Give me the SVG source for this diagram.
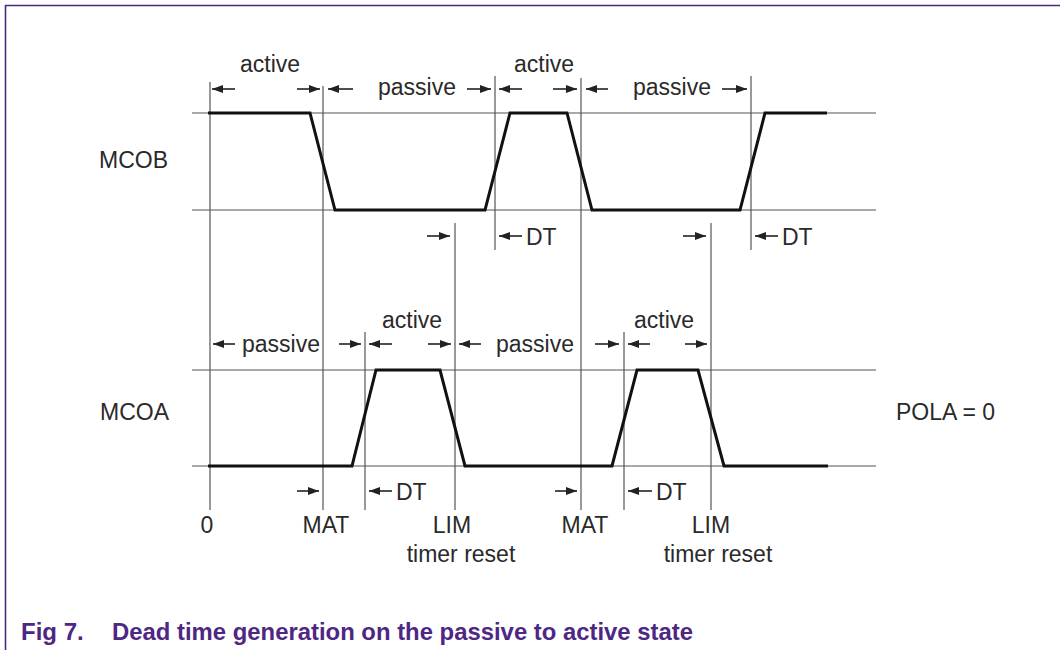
<svg xmlns="http://www.w3.org/2000/svg" width="1060" height="650" viewBox="0 0 1060 650">
  <style>
    .lbl { font-family: "Liberation Sans", Arial, sans-serif; font-size: 23px; fill: #2a2a2a; }
    .mid { text-anchor: middle; }
    .ref { stroke: #555; stroke-width: 1.2; fill: none; }
    .wave { stroke: #111; stroke-width: 3; fill: none; stroke-linejoin: miter; }
    .arr { stroke: #222; stroke-width: 1.6; fill: none; marker-end: url(#ah); }
    .cap { font-family: "Liberation Sans", Arial, sans-serif; font-size: 24px; font-weight: bold; fill: #4e2683; }
  </style>
  <defs>
    <marker id="ah" markerUnits="userSpaceOnUse" markerWidth="12" markerHeight="9" refX="11" refY="4" orient="auto">
      <path d="M0,0 L11,4 L0,8 z" fill="#222"/>
    </marker>
  </defs>
  <rect width="1060" height="650" fill="#ffffff"/>
  <g id="frame" stroke="#4e2683" stroke-width="1.6" fill="none">
    <line x1="5" y1="5.5" x2="1060" y2="5.5"/>
    <line x1="5.5" y1="5" x2="5.5" y2="650"/>
  </g>

  <g id="reference-lines">
    <line class="ref" x1="192" y1="113" x2="876" y2="113"/>
    <line class="ref" x1="192" y1="210" x2="876" y2="210"/>
    <line class="ref" x1="192" y1="370" x2="876" y2="370"/>
    <line class="ref" x1="192" y1="466" x2="876" y2="466"/>
    <line class="ref" x1="210" y1="82" x2="210" y2="510"/>
    <line class="ref" x1="323" y1="86" x2="323" y2="510"/>
    <line class="ref" x1="365" y1="332" x2="365" y2="510"/>
    <line class="ref" x1="455" y1="223" x2="455" y2="510"/>
    <line class="ref" x1="495" y1="76" x2="495" y2="250"/>
    <line class="ref" x1="581" y1="78" x2="581" y2="510"/>
    <line class="ref" x1="624" y1="332" x2="624" y2="510"/>
    <line class="ref" x1="711" y1="223" x2="711" y2="510"/>
    <line class="ref" x1="751" y1="76" x2="751" y2="250"/>
  </g>

  <g id="MCOB">
    <text class="lbl" x="99" y="168">MCOB</text>
    <path class="wave" d="M208,113 L310,113 L335,210 L485,210 L510,113 L567,113 L592,210 L740,210 L765,113 L827,113"/>
    <text class="lbl mid" x="270" y="72">active</text>
    <text class="lbl mid" x="417" y="95">passive</text>
    <text class="lbl mid" x="544" y="72">active</text>
    <text class="lbl mid" x="672" y="95">passive</text>
    <text class="lbl" x="526" y="245">DT</text>
    <text class="lbl" x="782" y="245">DT</text>
  </g>

  <g id="MCOA">
    <text class="lbl" x="100" y="420">MCOA</text>
    <path class="wave" d="M208,466 L352,466 L376,370 L440,370 L465,466 L612,466 L637,370 L698,370 L724,466 L828,466"/>
    <text class="lbl" x="242" y="352">passive</text>
    <text class="lbl mid" x="412" y="328">active</text>
    <text class="lbl" x="496" y="352">passive</text>
    <text class="lbl mid" x="664" y="328">active</text>
    <text class="lbl" x="396" y="500">DT</text>
    <text class="lbl" x="656" y="500">DT</text>
  </g>

  <g id="axis-labels">
    <text class="lbl mid" x="207" y="533">0</text>
    <text class="lbl mid" x="326" y="533">MAT</text>
    <text class="lbl mid" x="452" y="533">LIM</text>
    <text class="lbl mid" x="461" y="562">timer reset</text>
    <text class="lbl mid" x="585" y="533">MAT</text>
    <text class="lbl mid" x="711" y="533">LIM</text>
    <text class="lbl mid" x="718" y="562">timer reset</text>
    <text class="lbl" x="896" y="420">POLA = 0</text>
  </g>

  <g id="connectors">
    <line class="arr" x1="235" y1="89" x2="212" y2="89"/>
    <line class="arr" x1="297" y1="89" x2="320" y2="89"/>
    <line class="arr" x1="353" y1="89" x2="328" y2="89"/>
    <line class="arr" x1="467" y1="89" x2="491" y2="89"/>
    <line class="arr" x1="522" y1="89" x2="499" y2="89"/>
    <line class="arr" x1="553" y1="89" x2="577" y2="89"/>
    <line class="arr" x1="608" y1="89" x2="586" y2="89"/>
    <line class="arr" x1="722" y1="89" x2="747" y2="89"/>

    <line class="arr" x1="427" y1="236" x2="450" y2="236"/>
    <line class="arr" x1="522" y1="236" x2="499" y2="236"/>
    <line class="arr" x1="683" y1="236" x2="706" y2="236"/>
    <line class="arr" x1="778" y1="236" x2="755" y2="236"/>

    <line class="arr" x1="235" y1="344" x2="213" y2="344"/>
    <line class="arr" x1="339" y1="344" x2="361" y2="344"/>
    <line class="arr" x1="392" y1="344" x2="369" y2="344"/>
    <line class="arr" x1="428" y1="344" x2="451" y2="344"/>
    <line class="arr" x1="481" y1="344" x2="459" y2="344"/>
    <line class="arr" x1="595" y1="344" x2="619" y2="344"/>
    <line class="arr" x1="650" y1="344" x2="628" y2="344"/>
    <line class="arr" x1="685" y1="344" x2="707" y2="344"/>

    <line class="arr" x1="297" y1="491" x2="319" y2="491"/>
    <line class="arr" x1="392" y1="491" x2="369" y2="491"/>
    <line class="arr" x1="555" y1="491" x2="577" y2="491"/>
    <line class="arr" x1="652" y1="491" x2="628" y2="491"/>
  </g>

  <g id="caption">
    <text class="cap" x="21" y="640">Fig 7.</text>
    <text class="cap" x="112" y="640" textLength="581" lengthAdjust="spacingAndGlyphs">Dead time generation on the passive to active state</text>
  </g>
</svg>
